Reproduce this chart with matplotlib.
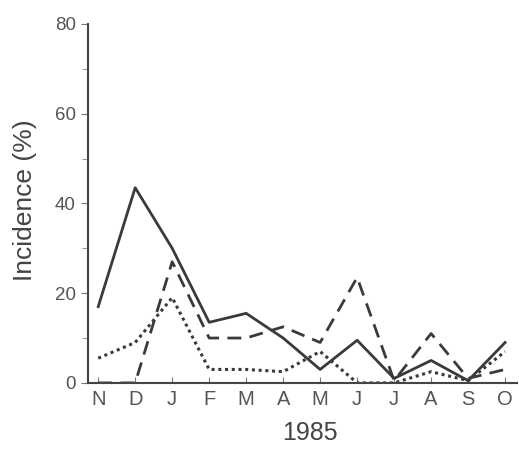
import matplotlib
matplotlib.use("Agg")
import matplotlib.pyplot as plt

# months Nov 1984 - Oct 1985
months = ['N', 'D', 'J', 'F', 'M', 'A', 'M', 'J', 'J', 'A', 'S', 'O']
solid = [17, 43.5, 30, 13.5, 15.5, 10, 3, 9.5, 1, 5, 0.5, 9]
dashed = [0, 0, 27, 10, 10, 12.5, 9, 23.5, 0.5, 11, 1, 3]
dotted = [5.5, 9, 19, 3, 3, 2.5, 7, 0, 0, 2.5, 0.5, 7]

plt.rcParams['font.family'] = ['Liberation Sans', 'DejaVu Sans']

fig = plt.figure(figsize=(5.19, 4.51), dpi=100)
ax = fig.add_axes([0.170, 0.151, 0.826, 0.796])

x = range(len(months))
lc = '#3a3a3a'
ax.plot(x, solid, '-', color=lc, linewidth=2.0)
ax.plot(x, dashed, color=lc, linewidth=2.0, dashes=(5, 3))
ax.plot(x, dotted, color=lc, linewidth=2.2, dashes=(1, 1.2))

ax.set_xlim(-0.27, 11.32)
ax.set_ylim(0, 80)
ax.set_xticks(list(x))
ax.set_xticklabels(months)
ax.set_yticks([0, 20, 40, 60, 80])
ax.set_yticks([10, 30, 50, 70], minor=True)

for s in ['top', 'right']:
    ax.spines[s].set_visible(False)
for s in ['left', 'bottom']:
    ax.spines[s].set_color('#444444')
    ax.spines[s].set_linewidth(1.5)

ax.tick_params(axis='x', direction='in', length=4, width=0.8, colors='#777777',
               labelcolor='#555555', labelsize=14.5, pad=5)
ax.tick_params(axis='y', which='major', direction='out', length=5, width=0.8,
               colors='#777777', labelcolor='#555555', labelsize=13.5, pad=4)
ax.tick_params(axis='y', which='minor', direction='out', length=4, width=0.8,
               colors='#999999')

ax.set_xlabel('1985', fontsize=18, color='#444444')
ax.set_ylabel('Incidence (%)', fontsize=19, color='#444444')
ax.xaxis.set_label_coords(0.518, -0.107)
ax.yaxis.set_label_coords(-0.12, 0.51)

fig.savefig('out.png', dpi=100, facecolor='white')
